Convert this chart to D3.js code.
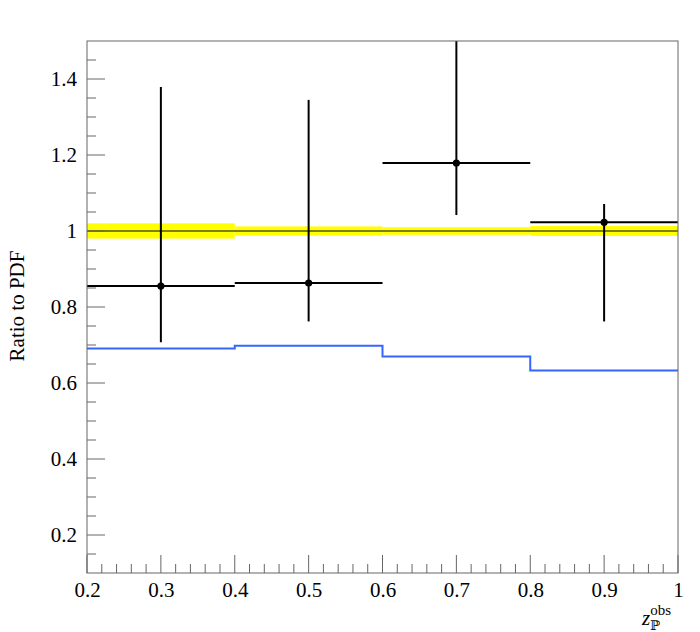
<!DOCTYPE html>
<html>
<head>
<meta charset="utf-8">
<script src="https://cdn.jsdelivr.net/npm/d3@7"></script>
<style>
  body { margin: 0; background: #fff; }
  text { font-family: "Liberation Serif", "DejaVu Serif", serif; }
</style>
</head>
<body>
<svg id="chart"></svg>
<script>
const WIDTH = 700;
const HEIGHT = 632;

// bins on z_P^obs
const binLo = [0.2, 0.4, 0.6, 0.8];
const binHi = [0.4, 0.6, 0.8, 1.0];
const binCenter = [0.3, 0.5, 0.7, 0.9];

// data / PDF ratio with errors
const ratio = [0.855, 0.863, 1.179, 1.023];
const ratioUp = [1.379, 1.345, 1.55, 1.071];
const ratioDown = [0.707, 0.762, 1.042, 0.762];

// PDF uncertainty band (half width)
const bandHalf = [0.020, 0.012, 0.010, 0.013];

// blue model curve
const model = [0.691, 0.698, 0.670, 0.633];

const xTicks = [0.2, 0.3, 0.4, 0.5, 0.6, 0.7, 0.8, 0.9, 1.0];
const yTicks = [0.2, 0.4, 0.6, 0.8, 1.0, 1.2, 1.4];

const margin = { left: 87, right: 22, top: 41, bottom: 59 };

const svg = d3.select("#chart").attr("width", WIDTH).attr("height", HEIGHT);

const x = d3.scaleLinear().domain([0.2, 1.0])
  .range([margin.left, WIDTH - margin.right]);
const y = d3.scaleLinear().domain([0.1, 1.5])
  .range([HEIGHT - margin.bottom, margin.top]);

svg.append("clipPath").attr("id", "plot")
  .append("rect")
  .attr("x", x(0.2)).attr("y", y(1.5))
  .attr("width", x(1.0) - x(0.2)).attr("height", y(0.1) - y(1.5));

const plot = svg.append("g").attr("clip-path", "url(#plot)");

// yellow band
plot.selectAll("rect.band").data(binLo).enter()
  .append("rect").attr("class", "band")
  .attr("x", d => x(d))
  .attr("width", (d, i) => x(binHi[i]) - x(d))
  .attr("y", (d, i) => y(1 + bandHalf[i]))
  .attr("height", (d, i) => y(1 - bandHalf[i]) - y(1 + bandHalf[i]))
  .attr("fill", "#ffff00");

// unity line
plot.append("line")
  .attr("x1", x(0.2)).attr("x2", x(1.0))
  .attr("y1", y(1)).attr("y2", y(1))
  .attr("stroke", "#000").attr("stroke-width", 1);

// blue step curve
const stepPts = [];
binLo.forEach((d, i) => { stepPts.push([d, model[i]]); stepPts.push([binHi[i], model[i]]); });
plot.append("path")
  .attr("d", d3.line().x(d => x(d[0])).y(d => y(d[1]))(stepPts))
  .attr("fill", "none").attr("stroke", "#3366ff").attr("stroke-width", 2);

// error bars
const pts = plot.selectAll("g.pt").data(binCenter).enter().append("g");
pts.append("line")
  .attr("x1", (d, i) => x(binLo[i])).attr("x2", (d, i) => x(binHi[i]))
  .attr("y1", (d, i) => y(ratio[i])).attr("y2", (d, i) => y(ratio[i]))
  .attr("stroke", "#000").attr("stroke-width", 2);
pts.append("line")
  .attr("x1", d => x(d)).attr("x2", d => x(d))
  .attr("y1", (d, i) => y(ratioUp[i])).attr("y2", (d, i) => y(ratioDown[i]))
  .attr("stroke", "#000").attr("stroke-width", 2);
pts.append("circle")
  .attr("cx", d => x(d)).attr("cy", (d, i) => y(ratio[i]))
  .attr("r", 3.6).attr("fill", "#000");

// frame
svg.append("rect")
  .attr("x", x(0.2)).attr("y", y(1.5))
  .attr("width", x(1.0) - x(0.2)).attr("height", y(0.1) - y(1.5))
  .attr("fill", "none").attr("stroke", "#666").attr("stroke-width", 1);

// x axis
const xAxis = svg.append("g")
  .attr("transform", `translate(0,${y(0.1)})`)
  .call(d3.axisBottom(x).tickValues(xTicks).tickSize(0).tickPadding(9)
    .tickFormat(d => d === 1 ? "1" : d3.format(".1f")(d)));
xAxis.select(".domain").remove();
xAxis.selectAll("text").attr("font-size", 21).attr("fill", "#000")
  .attr("font-family", "Liberation Serif, serif");

const xMinor = d3.range(0, 41).map(i => 0.2 + i * 0.02);
svg.append("g").selectAll("line").data(xMinor).enter()
  .append("line")
  .attr("x1", d => x(d)).attr("x2", d => x(d))
  .attr("y1", y(0.1))
  .attr("y2", (d, i) => y(0.1) - (i % 5 === 0 ? 18 : 9))
  .attr("stroke", "#666").attr("stroke-width", 1);

// y axis
const yAxis = svg.append("g")
  .attr("transform", `translate(${x(0.2)},0)`)
  .call(d3.axisLeft(y).tickValues(yTicks).tickSize(0).tickPadding(10)
    .tickFormat(d => d === 1 ? "1" : d3.format(".1f")(d)));
yAxis.select(".domain").remove();
yAxis.selectAll("text").attr("font-size", 21).attr("fill", "#000")
  .attr("font-family", "Liberation Serif, serif");

const yMinor = d3.range(1, 28).map(i => 0.1 + i * 0.05);
svg.append("g").selectAll("line").data(yMinor).enter()
  .append("line")
  .attr("y1", d => y(d)).attr("y2", d => y(d))
  .attr("x1", x(0.2))
  .attr("x2", (d, i) => x(0.2) + ((i + 1) % 4 === 2 ? 18 : 9))
  .attr("stroke", "#666").attr("stroke-width", 1);

// titles
svg.append("text")
  .attr("transform", `translate(24,306) rotate(-90)`)
  .attr("text-anchor", "middle")
  .attr("font-size", 21)
  .text("Ratio to PDF");

const xt = svg.append("text")
  .attr("x", 642).attr("y", 625)
  .attr("font-size", 21);
xt.append("tspan").attr("font-style", "italic").text("z");
xt.append("tspan").attr("font-size", 15).attr("dy", -10).text("obs");
xt.append("tspan").attr("font-size", 13).attr("x", 650).attr("dy", 15)
  .attr("font-family", "DejaVu Serif, serif").text("ℙ");
</script>
</body>
</html>
